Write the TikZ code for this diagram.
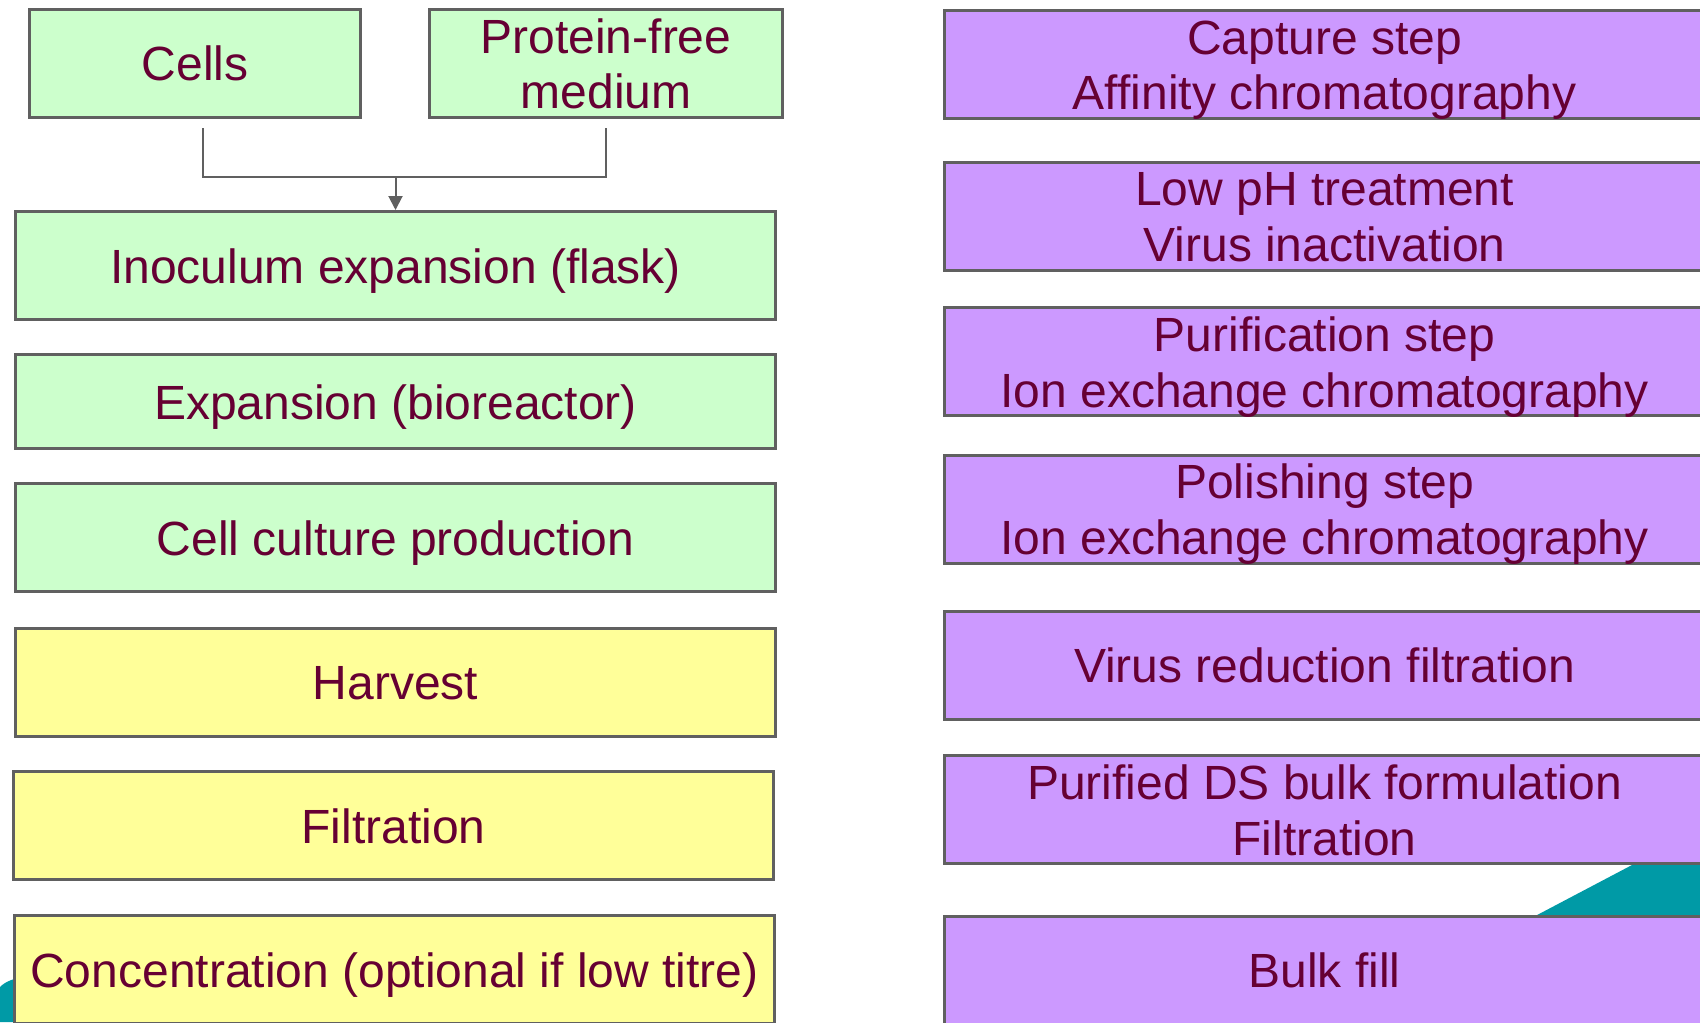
\documentclass[tikz,border=0pt]{standalone}
\usepackage{fontspec}
\setmainfont{Liberation Sans}
\usepackage{xcolor}
\usetikzlibrary{arrows.meta}
\usetikzlibrary{positioning}

\definecolor{boxline}{HTML}{606060}
\definecolor{txtred}{HTML}{660033}
\definecolor{upfill}{HTML}{CCFFCC}
\definecolor{harvfill}{HTML}{FFFF99}
\definecolor{dsfill}{HTML}{CC99FF}
\definecolor{decor}{HTML}{009AA6}

\begin{document}
\begin{tikzpicture}[x=0.5pt, y=-0.5pt,
    box/.style={draw=boxline, line width=1.5pt, inner sep=0pt, align=center,
        text=txtred, font=\fontsize{24}{28}\selectfont,
        text height=17.5pt, text depth=0pt,
        minimum width=380pt, minimum height=54pt},
    twolines/.style={text height=45.5pt},
    upbox/.style={box, fill=upfill},
    harvbox/.style={box, fill=harvfill},
    dsbox/.style={box, fill=dsfill},
    wire/.style={draw=boxline, line width=1pt}]
    \clip (0,0) rectangle (1700,1022);
    \fill[white] (0,0) rectangle (1700,1022);
    % slide decoration behind the boxes
    \fill[decor] (1520,924) -- (1651,855) -- (1700,855) -- (1700,924) -- cycle;
    \fill[decor] (0,987) .. controls (6,981) and (14,978) .. (30,976)
        -- (30,1022) -- (0,1022) -- cycle;

    % upstream
    \node[upbox, minimum width=165.5pt] (cells) at (195,63.5) {Cells};
    \node[upbox, twolines, minimum width=176.5pt] (medium) at (606,63.5) {Protein-free\\medium};
    \node[upbox] (inoc) at (395.5,265.5) {Inoculum expansion (flask)};
    \node[upbox, minimum height=47pt] (expan) at (395.5,401.5) {Expansion (bioreactor)};
    \node[upbox] (culture) at (395.5,537.5) {Cell culture production};
    \node[harvbox] (harvest) at (395.5,682) {Harvest};
    \node[harvbox] (filt) at (393.5,825.5) {Filtration};
    \node[harvbox] (conc) at (394.5,969.5) {Concentration (optional if low titre)};

    % downstream
    \node[dsbox, twolines] (capture) at (1324.5,64.5) {Capture step\\Affinity chromatography};
    \node[dsbox, twolines] (lowph) at (1324.5,216) {Low pH treatment\\Virus inactivation};
    \node[dsbox, twolines] (purif) at (1324.5,361.5) {Purification step\\Ion exchange chromatography};
    \node[dsbox, twolines] (polish) at (1324.5,509) {Polishing step\\Ion exchange chromatography};
    \node[dsbox] (virus) at (1324.5,665) {Virus reduction filtration};
    \node[dsbox, twolines] (dsform) at (1324.5,809.5) {Purified DS bulk formulation\\Filtration};
    \node[dsbox] (bulk) at (1324.5,970) {Bulk fill};

    \coordinate (join) at (395.5,177);
    \draw[wire] ([xshift=4pt,yshift=-4.5pt]cells.south) |- (join)
        -| ([yshift=-4.5pt]medium.south);
    \draw[wire, -{Triangle[length=7pt,width=7pt]}, boxline] (join) -- (inoc.north);
\end{tikzpicture}
\end{document}
